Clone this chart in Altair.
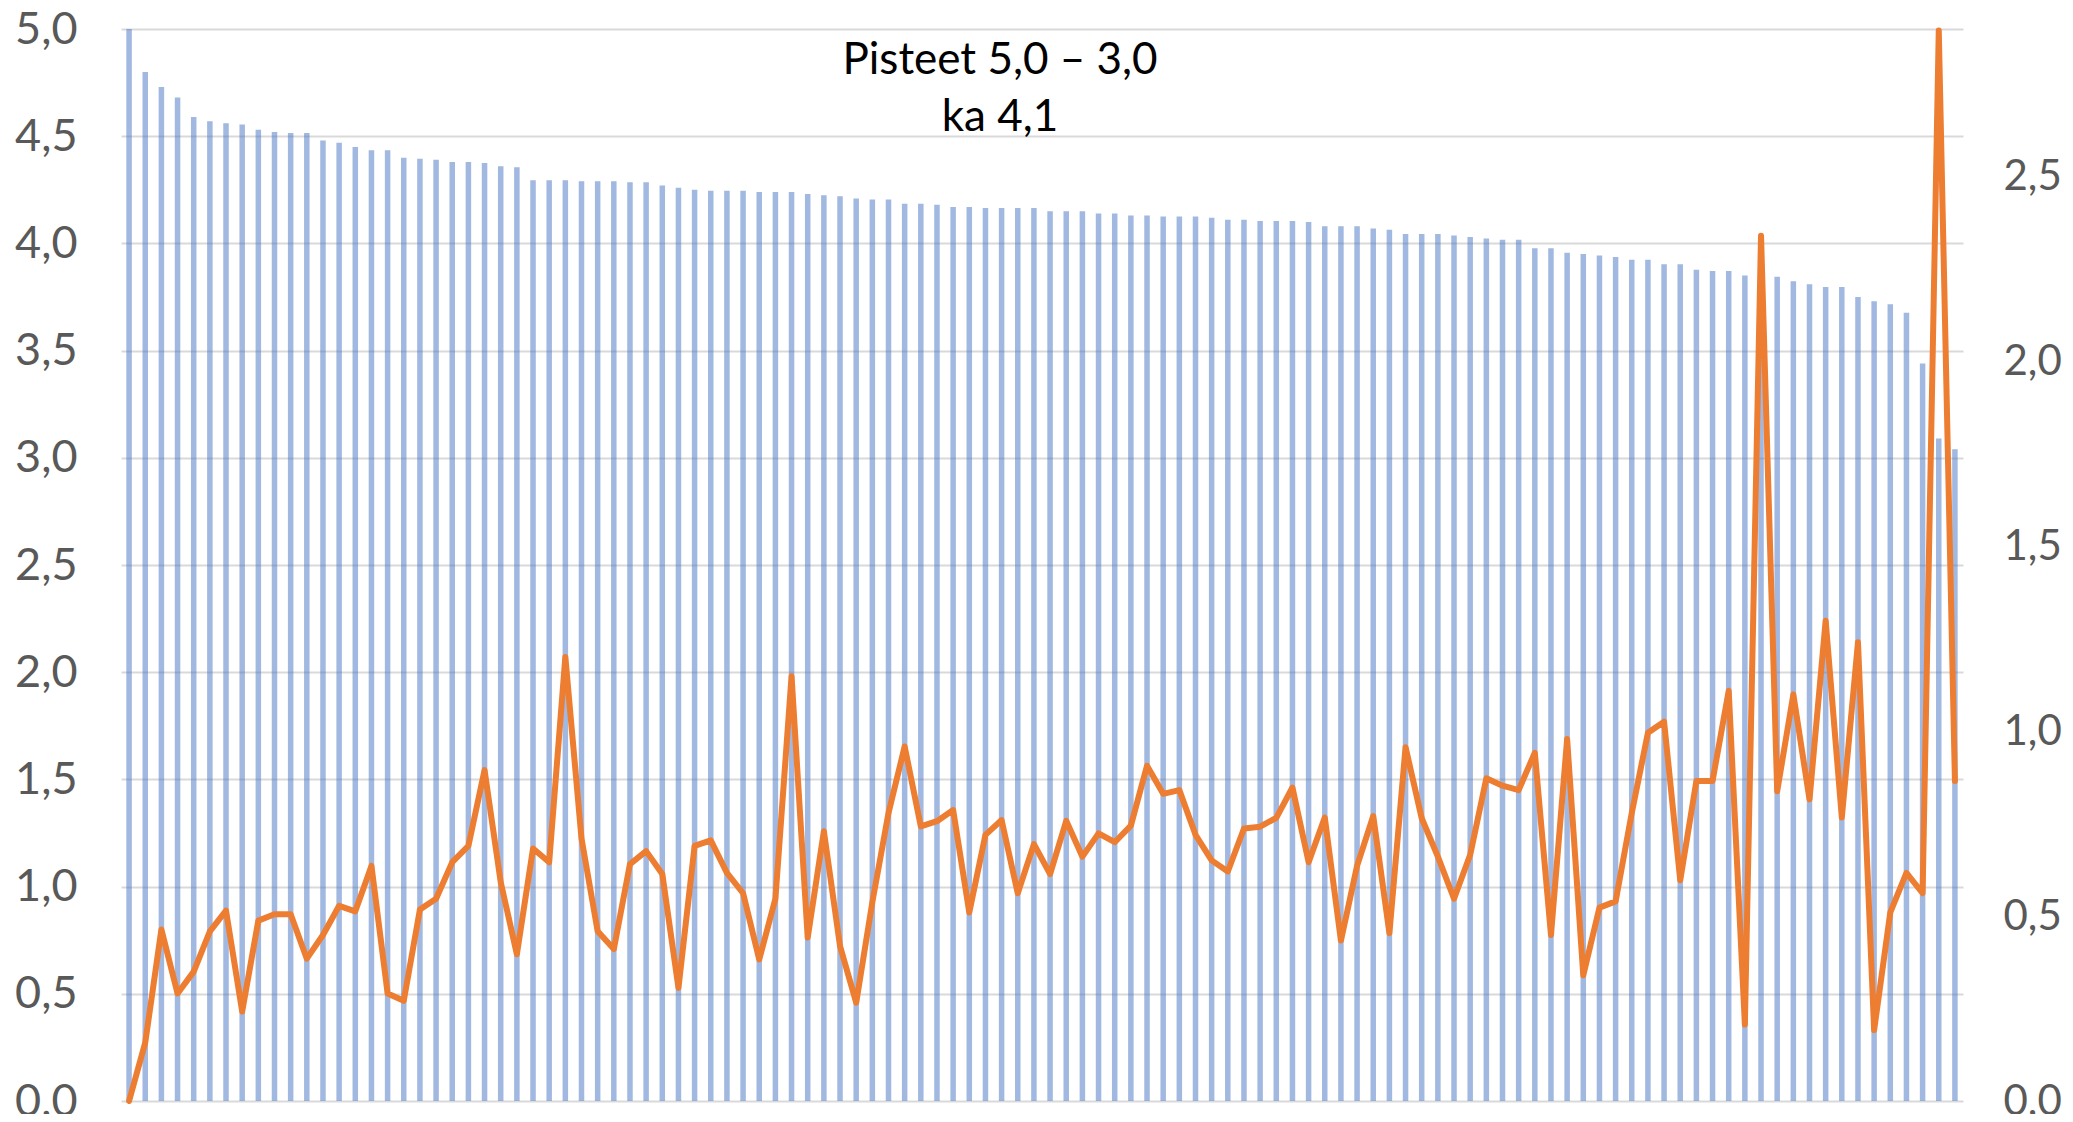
import altair as alt
import pandas as pd

scores = [5.00, 4.80, 4.73, 4.68, 4.59, 4.57, 4.56, 4.555, 4.53, 4.52, 4.515, 4.515,
          4.48, 4.47, 4.45, 4.435, 4.435, 4.40, 4.395, 4.39, 4.38, 4.38, 4.375, 4.36,
          4.355, 4.295, 4.295, 4.295, 4.29, 4.29, 4.29, 4.285, 4.285, 4.27, 4.26, 4.25,
          4.245, 4.245, 4.245, 4.24, 4.24, 4.24, 4.23, 4.225, 4.22, 4.21, 4.205, 4.205,
          4.185, 4.185, 4.18, 4.17, 4.17, 4.165, 4.165, 4.165, 4.165, 4.15, 4.15, 4.15,
          4.14, 4.14, 4.13, 4.13, 4.125, 4.125, 4.125, 4.12, 4.11, 4.11, 4.105, 4.105,
          4.105, 4.10, 4.08, 4.08, 4.08, 4.07,
          4.064, 4.044, 4.044, 4.044, 4.037, 4.03, 4.023, 4.017, 4.017, 3.977, 3.977, 3.956,
          3.95, 3.944, 3.936, 3.924, 3.924, 3.903, 3.903, 3.877, 3.871, 3.871, 3.85, 3.845,
          3.844, 3.824, 3.81, 3.797, 3.797, 3.75, 3.73, 3.716, 3.677, 3.44, 3.09, 3.04]

spread = [0.0, 0.158, 0.464, 0.291, 0.350, 0.459, 0.515, 0.242, 0.488, 0.505, 0.505, 0.385,
          0.449, 0.528, 0.513, 0.636, 0.291, 0.271, 0.518, 0.547, 0.646, 0.69, 0.895, 0.592,
          0.397, 0.683, 0.646, 1.201, 0.71, 0.459, 0.411, 0.641, 0.676, 0.614, 0.306, 0.69,
          0.705, 0.617, 0.562, 0.383, 0.547, 1.149, 0.442, 0.73, 0.419, 0.266, 0.538, 0.779,
          0.959, 0.743, 0.757, 0.787, 0.51, 0.72, 0.76, 0.562, 0.695, 0.614, 0.758, 0.661,
          0.724, 0.70, 0.745, 0.907, 0.831, 0.841, 0.72, 0.651, 0.621, 0.737, 0.742, 0.766,
          0.848, 0.646, 0.767, 0.434, 0.636, 0.771,
          0.454, 0.957, 0.765, 0.661, 0.547, 0.666, 0.873, 0.853, 0.841, 0.942, 0.449, 0.979,
          0.34, 0.523, 0.54, 0.779, 0.996, 1.026, 0.597, 0.866, 0.866, 1.11, 0.207, 2.341,
          0.838, 1.1, 0.816, 1.299, 0.767, 1.241, 0.192, 0.51, 0.617, 0.562, 2.896, 0.866]

left_ticks = [0, 0.5, 1, 1.5, 2, 2.5, 3, 3.5, 4, 4.5, 5]
right_ticks = [0, 0.5, 1, 1.5, 2, 2.5]
title_lines = ["Pisteet 5,0 – 3,0", "ka 4,1"]

idx = list(range(1, len(scores) + 1))
df = pd.DataFrame({"i": idx, "score": scores, "spread": spread})

fmt = "replace(format(datum.value, '.1f'), '.', ',')"

xenc = alt.X("i:O", axis=None, scale=alt.Scale(paddingInner=0, paddingOuter=0))

bars = alt.Chart(df).mark_bar(color="#4472C4", opacity=0.5, size=5.5).encode(
    x=xenc,
    y=alt.Y("score:Q",
            scale=alt.Scale(domain=[0, 5], nice=False, zero=True),
            axis=alt.Axis(values=left_ticks, labelExpr=fmt, grid=True,
                          gridColor="#D9D9D9", gridWidth=2, domain=False, ticks=False,
                          labelFont="Lato", labelFontSize=45, labelColor="#595959",
                          labelPadding=44, title=None)),
)

line = alt.Chart(df).mark_line(color="#ED7D31", strokeWidth=6,
                               strokeJoin="round", strokeCap="round").encode(
    x=xenc,
    y=alt.Y("spread:Q",
            scale=alt.Scale(domain=[0, 2.9], nice=False, zero=True),
            axis=alt.Axis(orient="right", values=right_ticks, labelExpr=fmt, grid=False,
                          domain=False, ticks=False, labelFont="Lato", labelFontSize=42,
                          labelColor="#595959", labelPadding=40, title=None)),
)

tdf = pd.DataFrame({"t": ["\n".join(title_lines)]})
title = alt.Chart(tdf).mark_text(lineBreak="\n", font="Lato", fontSize=44, color="#000000",
                                 align="center", baseline="alphabetic", lineHeight=57).encode(
    text="t:N", x=alt.value(879), y=alt.value(45)
)

chart = alt.layer(bars, line, title).resolve_scale(y="independent").properties(
    width=1842, height=1072,
    padding={"left": 113, "top": 21, "right": 100, "bottom": 13},
    autosize=alt.AutoSizeParams(type="none"),
).configure_view(stroke=None)

chart.save("out.html", embed_options={"renderer": "svg", "actions": False})
